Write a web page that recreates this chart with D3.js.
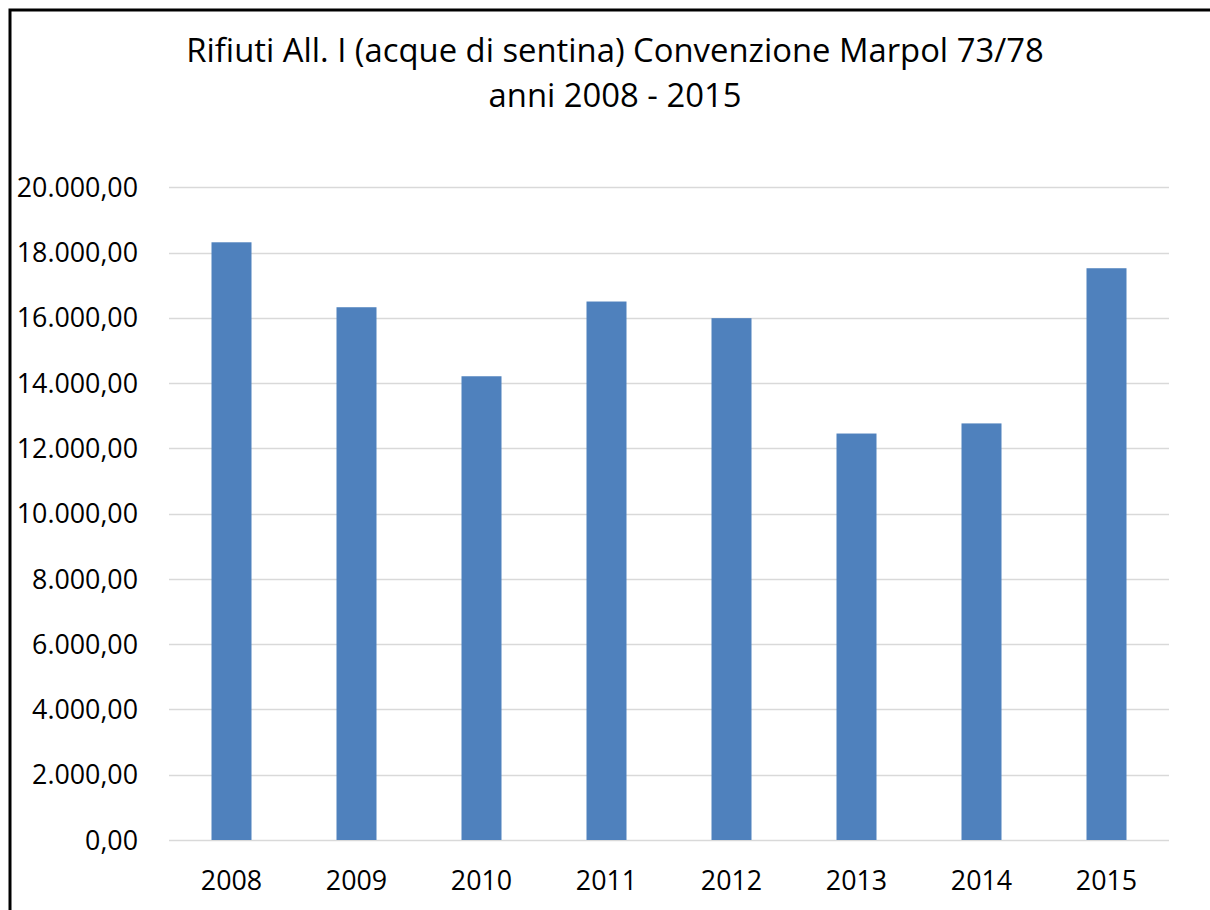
<!DOCTYPE html>
<html>
<head>
<meta charset="utf-8">
<script src="https://cdn.jsdelivr.net/npm/d3@7"></script>
<style>
  html, body { margin: 0; padding: 0; background: #fff; }
  svg { display: block; }
  text { font-family: "Open Sans", "Noto Sans", sans-serif; fill: #000; }
</style>
</head>
<body>
<svg id="chart" width="1210" height="910"></svg>
<script>
const categories = ["2008", "2009", "2010", "2011", "2012", "2013", "2014", "2015"];
const values = [18315, 16325, 14210, 16500, 15990, 12455, 12765, 17520];
const yTicks = [0, 2000, 4000, 6000, 8000, 10000, 12000, 14000, 16000, 18000, 20000];
const titleLines = ["Rifiuti All. I (acque di sentina) Convenzione Marpol 73/78", "anni 2008 - 2015"];

const svg = d3.select("#chart");
const W = 1210, H = 910;
const plot = { left: 169, right: 1169, top: 187.3, bottom: 840 };

svg.append("rect").attr("width", W).attr("height", H).attr("fill", "#fff");

// outer frame (left & top visible)
svg.append("path")
  .attr("d", `M10,${H + 5} L10,10 L${W + 5},10`)
  .attr("fill", "none").attr("stroke", "#000").attr("stroke-width", 3);

const x = d3.scaleBand().domain(categories).range([plot.left, plot.right]).padding(0);
const y = d3.scaleLinear().domain([0, 20000]).range([plot.bottom, plot.top]);

const fmt = v => {
  const s = d3.format(",.2f")(v);
  return s.replace(/,/g, "#").replace(/\./g, ",").replace(/#/g, ".");
};

// gridlines
svg.append("g").selectAll("line").data(yTicks).join("line")
  .attr("x1", plot.left).attr("x2", plot.right)
  .attr("y1", d => Math.round(y(d)) + 0.5).attr("y2", d => Math.round(y(d)) + 0.5)
  .attr("stroke", "#d9d9d9").attr("stroke-width", 1.5);

// y axis labels
const yAxis = d3.axisLeft(y).tickValues(yTicks).tickFormat(fmt).tickSize(0).tickPadding(0);
const gy = svg.append("g").attr("transform", `translate(138,0)`).call(yAxis);
gy.select(".domain").remove();
gy.selectAll("text").attr("font-size", 26.8).attr("font-family", "'Open Sans', sans-serif").attr("fill", "#000").attr("dy", "0.34em");

// bars
const barW = 40;
svg.append("g").selectAll("rect").data(values).join("rect")
  .attr("x", (d, i) => x(categories[i]) + x.bandwidth() / 2 - barW / 2)
  .attr("width", barW)
  .attr("y", d => y(d))
  .attr("height", d => y(0) - y(d))
  .attr("fill", "#4f81bd");

// x axis labels
const xAxis = d3.axisBottom(x).tickSize(0).tickPadding(0);
const gx = svg.append("g").attr("transform", `translate(0,890)`).call(xAxis);
gx.select(".domain").remove();
gx.selectAll("text").attr("font-size", 26.8).attr("font-family", "'Open Sans', sans-serif").attr("fill", "#000").attr("dy", "0");

// title
svg.append("g").selectAll("text").data(titleLines).join("text")
  .attr("x", 615).attr("y", (d, i) => 62 + i * 45)
  .attr("text-anchor", "middle")
  .attr("font-size", 32.8)
  .text(d => d);
</script>
</body>
</html>
